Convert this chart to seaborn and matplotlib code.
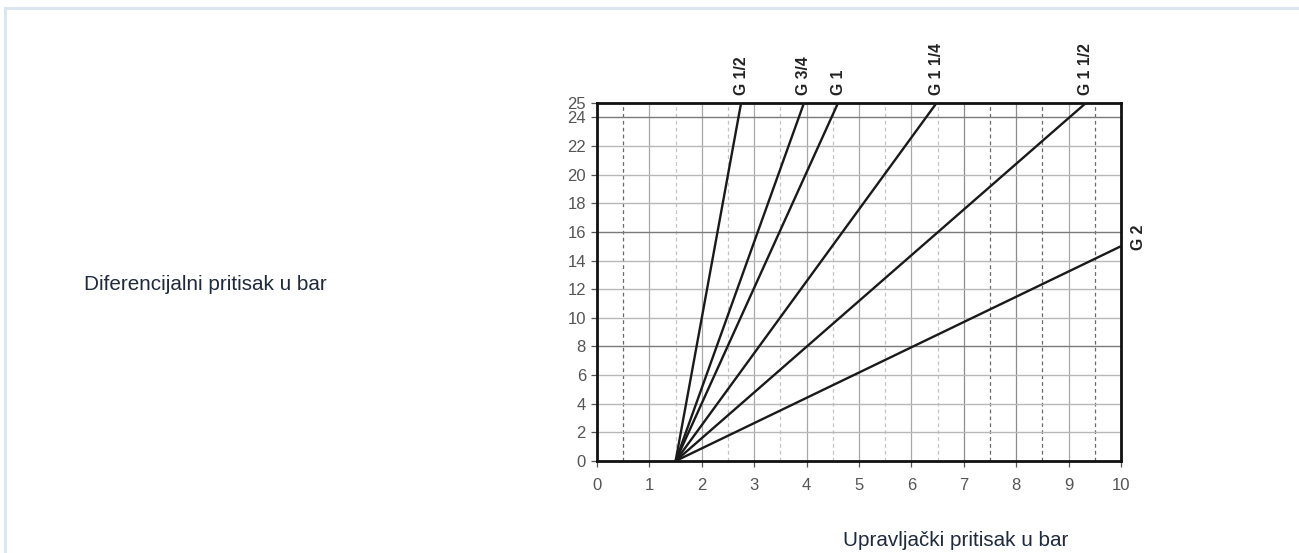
import matplotlib
matplotlib.use("Agg")
import matplotlib.pyplot as plt
import seaborn as sns
import pandas as pd
import numpy as np
from matplotlib.patches import Rectangle

# Data: each curve is a straight line from the origin point to its end point
series = ["G 1/2", "G 3/4", "G 1", "G 1 1/4", "G 1 1/2", "G 2"]
x_start = [1.5, 1.5, 1.5, 1.5, 1.5, 1.5]
y_start = [0, 0, 0, 0, 0, 0]
x_end = [2.75, 3.95, 4.6, 6.48, 9.33, 10.0]
y_end = [25, 25, 25, 25, 25, 15]
x_ticks = [0, 1, 2, 3, 4, 5, 6, 7, 8, 9, 10]
y_ticks = [0, 2, 4, 6, 8, 10, 12, 14, 16, 18, 20, 22, 24, 25]
y_label = "Diferencijalni pritisak u bar"
x_label = "Upravljački pritisak u bar"

rows = []
for s, xs, ys, xe, ye in zip(series, x_start, y_start, x_end, y_end):
    rows.append({"series": s, "x": xs, "y": ys})
    rows.append({"series": s, "x": xe, "y": ye})
df = pd.DataFrame(rows)

sns.set_theme(style="white")
plt.rcParams['font.family'] = ['Liberation Sans', 'DejaVu Sans']

fig = plt.figure(figsize=(12.99, 5.53), dpi=100)
ax = fig.add_axes([597/1299, 1-461/553, (1121-597)/1299, (461-103)/553])

# grid
for xv in np.arange(1, 10):
    ax.axvline(xv, color="#8c8c8c" if xv in (7, 8) else "#a8a8a8", lw=0.9, zorder=1)
for xv in np.arange(0.5, 10, 1.0):
    dark = xv in (0.5, 7.5, 8.5, 9.5)
    ax.axvline(xv, color="#6a6a6a" if dark else "#c4c4c4", lw=0.9,
               ls=(0, (3, 2.5)), zorder=1)
for yv in range(2, 25, 2):
    ax.axhline(yv, color="#7a7a7a" if yv in (8, 16, 24) else "#b8b8b8", lw=1.0, zorder=1)

sns.lineplot(data=df, x="x", y="y", units="series", estimator=None,
             color="#1a1a1a", lw=1.7, ax=ax, legend=False, zorder=3)

ax.set_xlim(0, 10)
ax.set_ylim(0, 25)
ax.set_xticks(x_ticks)
ax.set_yticks(y_ticks)
ax.tick_params(axis="both", colors="#555555", labelsize=12, length=4, width=0.9,
               direction="out", bottom=True, left=True)
ax.tick_params(axis="x", pad=8)
ax.tick_params(axis="y", pad=4)
ax.set_xlabel("")
ax.set_ylabel("")
for sp in ax.spines.values():
    sp.set_visible(True)
    sp.set_color("#111111")
    sp.set_linewidth(2.0)
ax.set_facecolor("white")

# curve labels
for s, xe, ye in zip(series, x_end, y_end):
    if ye >= 25:
        ax.text(xe, 25.55, s, rotation=90, ha="center", va="bottom",
                fontsize=11.3, fontweight="bold", color="#222222", clip_on=False)
    else:
        ax.text(xe + 0.33, ye + 0.6, s, rotation=90, ha="center", va="center",
                fontsize=11.3, fontweight="bold", color="#222222", clip_on=False)

# frame
fig.patches.append(Rectangle((5.5/1299, -0.1), 2.0, 1 - 8/553 + 0.1,
                             transform=fig.transFigure, fill=False,
                             edgecolor="#dbe6f1", lw=2.2))

fig.text(84/1299, 1-285/553, y_label, ha="left", va="center", fontsize=14.9,
         color="#1f2a3d")
fig.text(843/1299, 1-541/553, x_label, ha="left", va="center", fontsize=14.9,
         color="#1f2a3d")

fig.savefig("out.png", dpi=100, facecolor="white")
